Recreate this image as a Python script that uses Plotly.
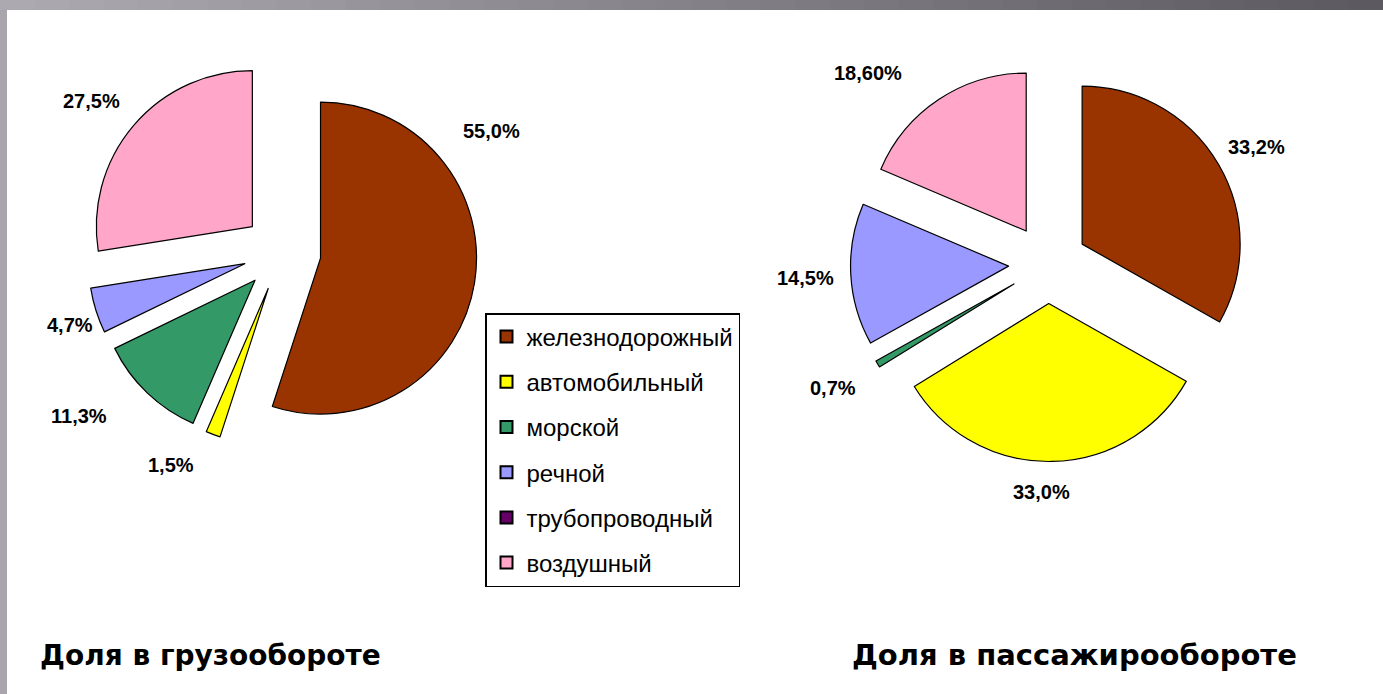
import plotly.graph_objects as go

W, H = 1383, 694

# Transport modes (legend order = slice order, clockwise from 12 o'clock)
categories = ["железнодорожный", "автомобильный", "морской", "речной",
              "трубопроводный", "воздушный"]
colors = ["#993300", "#FFFF00", "#339966", "#9999FF", "#660066", "#FFA6C9"]

# Share in freight turnover, %
freight = [55.0, 1.5, 11.3, 4.7, 0.0, 27.5]
freight_decimals = [1, 1, 1, 1, 1, 1]
# Share in passenger turnover, %
passenger = [33.2, 33.0, 0.7, 14.5, 0.0, 18.6]
passenger_decimals = [1, 1, 1, 1, 1, 2]

titles = ["Доля в грузообороте", "Доля в пассажирообороте"]

# label centres in pixels (None = no label for that slice)
freight_label_px = [(491, 131), (171, 465), (79, 416), (70, 325), None, (91, 101)]
passenger_label_px = [(1256, 147), (1041, 492), (833, 388), (805, 278), None, (868, 73)]


def pct(v, d):
    return f"{v:.{d}f}".replace(".", ",") + "%"


def px_to_paper(x, y):
    return x / W, 1 - y / H


def pie_domain(cx, cy, r, pull):
    # plotly sizes a pie as min(box)/(2+2*maxPull)
    side = r * (2 + 2 * pull)
    x0, y1 = px_to_paper(cx - side / 2, cy - side / 2)
    x1, y0 = px_to_paper(cx + side / 2, cy + side / 2)
    return dict(x=[x0, x1], y=[y0, y1])


PULL = 0.25
fig = go.Figure()

for vals, dom in [(freight, pie_domain(282, 252, 156, PULL)),
                  (passenger, pie_domain(1048, 264, 158, PULL))]:
    # empty slices get no outline so they leave no stray stroke
    widths = [1.2 if v > 0 else 0 for v in vals]
    fig.add_trace(go.Pie(
        labels=categories, values=vals, sort=False, direction="clockwise",
        rotation=0, pull=[PULL] * len(vals), domain=dom,
        marker=dict(colors=colors, line=dict(color="#000000", width=widths)),
        textinfo="none", hoverinfo="label+percent", showlegend=False,
    ))

# legend entries
for name, col in zip(categories, colors):
    fig.add_trace(go.Scatter(
        x=[None], y=[None], mode="markers", name=name, legendgroup=name,
        marker=dict(symbol="square", size=13, color=col,
                    line=dict(color="#000000", width=1.5)),
        showlegend=True,
    ))

annotations = []
for vals, decs, pos in [(freight, freight_decimals, freight_label_px),
                        (passenger, passenger_decimals, passenger_label_px)]:
    for v, d, p in zip(vals, decs, pos):
        if p is None:
            continue
        x, y = px_to_paper(*p)
        annotations.append(dict(
            x=x, y=y, xref="paper", yref="paper", text="<b>" + pct(v, d) + "</b>",
            showarrow=False, xanchor="center", yanchor="middle",
            font=dict(family="Liberation Sans", size=20, color="#000000"),
        ))

for t, (x, y, size) in zip(titles, [(38, 655, 28), (850, 655, 29)]):
    xp, yp = px_to_paper(x, y)
    annotations.append(dict(
        x=xp, y=yp, xref="paper", yref="paper", text="<b>" + t + "</b>",
        showarrow=False, xanchor="left", yanchor="middle",
        font=dict(family="DejaVu Sans", size=size, color="#000000"),
    ))

# slide frame: gradient strip on top, plain strip on the left
shapes = []
n = 40
c0, c1 = (172, 170, 176), (92, 90, 96)
for i in range(n):
    f = i / (n - 1)
    c = tuple(round(a + (b - a) * f) for a, b in zip(c0, c1))
    shapes.append(dict(
        type="rect", xref="paper", yref="paper", layer="below",
        x0=i / n, x1=(i + 1) / n + 0.001, y0=1 - 10 / H, y1=1,
        fillcolor=f"rgb{c}", line=dict(width=0),
    ))
shapes.append(dict(
    type="rect", xref="paper", yref="paper", layer="below",
    x0=0, x1=7 / W, y0=0, y1=1 - 10 / H,
    fillcolor="rgb(168,166,172)", line=dict(width=0),
))

lx, ly = px_to_paper(485, 313)
fig.update_layout(
    width=W, height=H,
    margin=dict(l=0, r=0, t=0, b=0),
    paper_bgcolor="#FFFFFF", plot_bgcolor="#FFFFFF",
    xaxis=dict(visible=False), yaxis=dict(visible=False),
    showlegend=True,
    legend=dict(
        x=lx, y=ly, xanchor="left", yanchor="top",
        bgcolor="#FFFFFF", bordercolor="#000000", borderwidth=1.5,
        font=dict(family="Liberation Sans", size=24, color="#000000"),
        tracegroupgap=11, itemsizing="constant", itemwidth=30,
    ),
    annotations=annotations,
    shapes=shapes,
)

fig.write_html("out.html")
